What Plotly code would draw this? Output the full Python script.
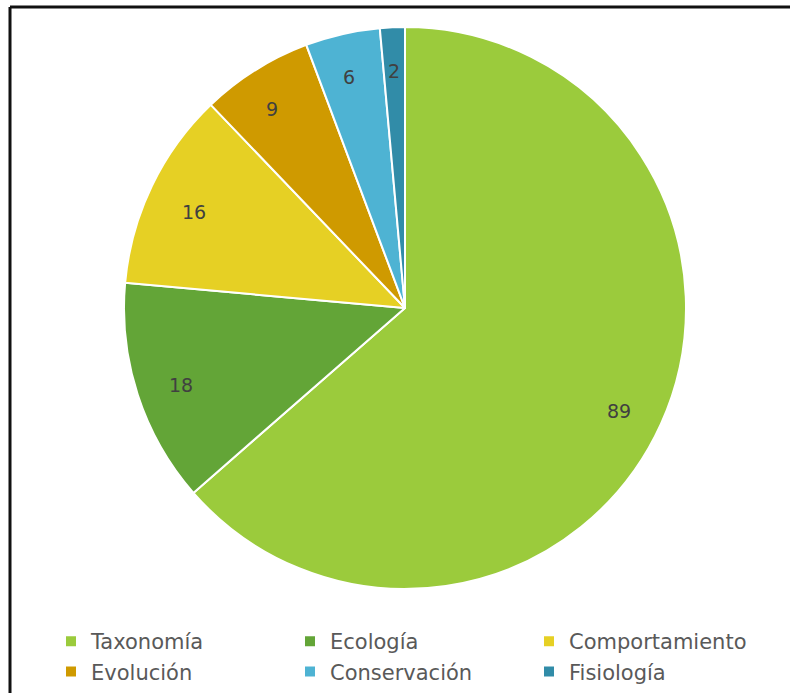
import math
import plotly.graph_objects as go

# Number of studies per research area
areas = ["Taxonomía", "Ecología", "Comportamiento", "Evolución", "Conservación", "Fisiología"]
counts = [89, 18, 16, 9, 6, 2]
colors = ["#9BCB3C", "#63A537", "#E6D024", "#CF9A00", "#4EB3D3", "#318CA8"]

W, H = 790, 693
# pie placement (pixels)
cx, cy, R = 405, 308, 281

fig = go.Figure(
    go.Pie(
        labels=areas,
        values=counts,
        sort=False,
        direction="clockwise",
        rotation=0,
        marker=dict(colors=colors, line=dict(color="white", width=2)),
        textinfo="none",
        hoverinfo="label+value",
        domain=dict(x=[(cx - R) / W, (cx + R) / W], y=[1 - (cy + R) / H, 1 - (cy - R) / H]),
    )
)

# value labels placed inside each slice, near the outer edge
total = sum(counts)
annotations = []
cum = 0
for v in counts:
    mid = (cum + v / 2) / total * 2 * math.pi
    cum += v
    r = 0.89 * R
    px = cx + r * math.sin(mid)
    py = cy - r * math.cos(mid)
    annotations.append(
        dict(
            x=px / W, y=1 - py / H, xref="paper", yref="paper",
            text=str(v), showarrow=False,
            font=dict(size=19, color="#404040", family="DejaVu Sans"),
        )
    )

fig.update_layout(
    width=W,
    height=H,
    margin=dict(l=0, r=0, t=0, b=0, autoexpand=False),
    paper_bgcolor="white",
    plot_bgcolor="white",
    annotations=annotations,
    legend=dict(
        orientation="h",
        x=51 / W, xanchor="left",
        y=1 - 621 / H, yanchor="top",
        entrywidth=194,
        entrywidthmode="pixels",
        font=dict(size=21, color="#595959", family="DejaVu Sans"),
        itemsizing="constant",
        tracegroupgap=0,
    ),
    shapes=[
        dict(type="line", xref="paper", yref="paper", x0=10 / W, x1=1.01, y0=1 - 7 / H, y1=1 - 7 / H,
             line=dict(color="#111111", width=3)),
        dict(type="line", xref="paper", yref="paper", x0=10 / W, x1=10 / W, y0=1 - 7 / H, y1=-0.01,
             line=dict(color="#111111", width=3)),
    ],
)

fig.write_html("out.html")
